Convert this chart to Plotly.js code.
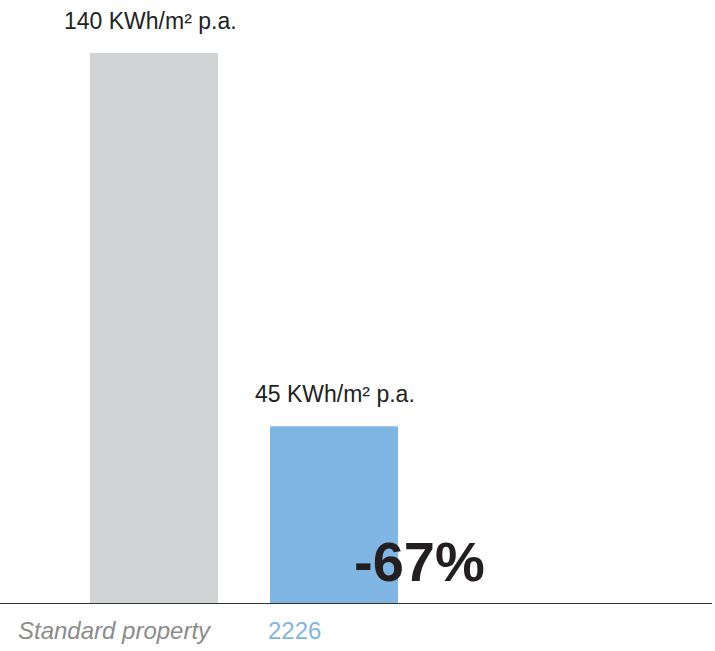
<!DOCTYPE html>
<html>
<head>
<meta charset="utf-8">
<script src="https://cdn.plot.ly/plotly-3.0.1.min.js"></script>
<style>html,body{margin:0;padding:0;background:#fff;}#chart{width:715px;height:651px;}</style>
</head>
<body>
<div id="chart"></div>
<script>
const categories = ["Standard property", "2226"];
const values = [140, 45];
const valueLabels = ["140 KWh/m² p.a.", "45 KWh/m² p.a."];
const reductionLabel = "-67%";

const barColors = ["#d2d3d5", "#7fb6e3"];
const catColors = ["#8c8c8c", "#7fb6e3"];
const xs = [0, 1];

const trace = {
  type: "bar",
  x: xs,
  y: values,
  width: 0.711,
  marker: {color: barColors},
  hoverinfo: "none"
};

const annotations = [];
valueLabels.forEach((t, i) => {
  annotations.push({
    x: xs[i], y: values[i], xref: "x", yref: "y",
    text: t, showarrow: false, xanchor: "center", yanchor: "bottom",
    xshift: i === 0 ? -4 : 1, yshift: 17,
    font: {family: "Liberation Sans, Arial, sans-serif", size: 23, color: "#222222"}
  });
});
categories.forEach((c, i) => {
  annotations.push({
    x: xs[i], y: 0, xref: "x", yref: "y",
    text: i === 0 ? "<i>" + c + "</i>" : c, showarrow: false,
    xanchor: "left", yanchor: "top",
    xshift: i === 0 ? -138 : -68, yshift: -12,
    font: {family: "Liberation Sans, Arial, sans-serif", size: 24, color: catColors[i]}
  });
});
annotations.push({
  x: xs[1], y: 0, xref: "x", yref: "y",
  text: "<b>" + reductionLabel + "</b>", showarrow: false,
  xanchor: "left", yanchor: "bottom",
  xshift: 18, yshift: 8,
  font: {family: "Liberation Sans, Arial, sans-serif", size: 56, color: "#231f20"}
});

const layout = {
  width: 715, height: 651,
  margin: {l: 0, r: 3, t: 0, b: 48},
  paper_bgcolor: "#ffffff", plot_bgcolor: "#ffffff",
  showlegend: false,
  xaxis: {range: [-0.8556, 3.1], showgrid: false, zeroline: false, showticklabels: false,
          showline: true, linecolor: "#333333", linewidth: 1, fixedrange: true},
  yaxis: {range: [0, 153.49], showgrid: false, zeroline: false, showticklabels: false,
          showline: false, fixedrange: true},
  annotations: annotations
};

Plotly.newPlot("chart", [trace], layout, {displayModeBar: false, staticPlot: true});
</script>
</body>
</html>
